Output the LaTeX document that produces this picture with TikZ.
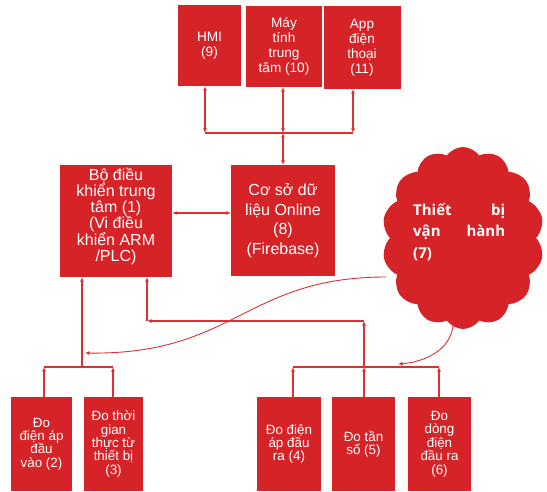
\documentclass[tikz,border=0pt]{standalone}
\usepackage{fontspec}
\setmainfont{Liberation Sans}
\newfontfamily\cloudfont{Open Sans}
\usetikzlibrary{shapes.symbols,arrows.meta}
\definecolor{boxred}{RGB}{214,35,40}
\definecolor{linered}{RGB}{222,48,52}
\begin{document}
\begin{tikzpicture}[x=1pt,y=-1pt,
  >={Latex[length=4.5pt,width=4pt]},
  box/.style={fill=boxred, text=white, align=center, inner sep=0pt},
  topbox/.style={box, font=\fontsize{13.6}{15}\selectfont},
  midbox/.style={box, font=\fontsize{16}{15.8}\selectfont},
  botbox/.style={box, font=\fontsize{13.4}{13.4}\selectfont},
  conn/.style={draw=linered, line width=1.3pt},
  curve/.style={draw=linered, line width=0.9pt}]
\useasboundingbox (0,0) rectangle (547,492);

% top boxes
\node[topbox, minimum width=63pt, minimum height=81pt] (hmi) at (209.5,45.5) {HMI\\(9)};
\node[topbox, minimum width=76pt, minimum height=81pt] (pc) at (284,46.5) {Máy\\tính\\trung\\tâm (10)};
\node[topbox, minimum width=77pt, minimum height=83pt] (app) at (362,47.5) {App\\điện\\thoại\\(11)};

% middle
\node[midbox, minimum width=112pt, minimum height=112pt] (ctrl) at (116,221) {};
\node[midbox, anchor=center] (ctrltext) at (116,216.5) {Bộ điều\\khiển trung\\tâm (1)\\(Vi điều\\khiển ARM\\/PLC)};
\node[midbox, minimum width=104pt, minimum height=111pt, font=\fontsize{16}{19.5}\selectfont] (db) at (283,220.5) {Cơ sở dữ\\liệu Online\\(8)\\(Firebase)};

% cloud
\node[cloud, cloud puffs=14, cloud puff arc=110, cloud ignores aspect, fill=boxred,
  minimum width=162pt, minimum height=182pt, inner sep=0pt] (dev) at (463,238) {};
\node[anchor=north west, inner sep=0pt, text=white, align=left,
  font=\cloudfont\bfseries\fontsize{15}{21.5}\selectfont] (devtext) at (413,203)
  {\makebox[92pt][s]{Thiết\hfill bị}\\\makebox[92pt][s]{vận\hfill hành}\\(7)};

% bottom boxes
\node[botbox, minimum width=61pt, minimum height=94pt] (b2) at (41.5,444) {Đo\\điện áp\\đầu\\vào (2)};
\node[botbox, minimum width=59pt, minimum height=94pt] (b3) at (113.5,444) {Đo thời\\gian\\thực từ\\thiết bị\\(3)};
\node[botbox, minimum width=64pt, minimum height=94pt] (b4) at (289,444) {Đo điện\\áp đầu\\ra (4)};
\node[botbox, minimum width=63pt, minimum height=94pt] (b5) at (363.5,444) {Đo tần\\số (5)};
\node[botbox, minimum width=63pt, minimum height=94pt] (b6) at (439.5,444) {Đo\\dòng\\điện\\đầu ra\\(6)};

% top bus
\coordinate (tb1) at (205,133);
\coordinate (tb2) at (283,133);
\coordinate (tb3) at (353,133);
\draw[conn,<->] (tb1 |- hmi.south) -- (tb1);
\draw[conn,<->] (tb2 |- pc.south) -- (tb2);
\draw[conn,<->] (tb3 |- app.south) -- (tb3);
\draw[conn] (tb1) -- (tb3);
\draw[conn,<->] (tb2) -- (tb2 |- db.north);

% controller <-> db
\coordinate (cd) at (0,213);
\draw[conn,<->] (ctrl.east |- cd) -- (db.west |- cd);

% bottom left bus
\coordinate (lb) at (82,367);
\coordinate (lb1) at (44,367);
\coordinate (lb2) at (113,367);
\draw[conn,->] (lb1 |- b2.north) -- (lb1);
\draw[conn,->] (lb2 |- b3.north) -- (lb2);
\draw[conn] (lb1) -- (lb2);
\draw[conn,->] (lb) -- (lb |- ctrl.south);

% bottom right bus
\coordinate (rb1) at (293,367);
\coordinate (rb2) at (364,367);
\coordinate (rb3) at (439,367);
\coordinate (rc) at (364,321);
\coordinate (lc) at (147,321);
\draw[conn,->] (rb1 |- b4.north) -- (rb1);
\draw[conn,->] (rb2 |- b5.north) -- (rb2);
\draw[conn,->] (rb3 |- b6.north) -- (rb3);
\draw[conn] (rb1) -- (rb3);
\draw[conn,->] (rb2) -- (rc);
\draw[conn,->] (rc) -- (lc);
\draw[conn,->] (lc) -- (lc |- ctrl.south);

% curves from the cloud
\coordinate (c1s) at (386,277);
\coordinate (c1e) at (85,353);
\draw[curve,->] (c1s) .. controls (245,277) and (235,355) .. (c1e);
\coordinate (c2s) at (453,326);
\coordinate (c2e) at (398,364);
\draw[curve,->] (c2s) .. controls (450,350) and (425,362) .. (c2e);
\end{tikzpicture}
\end{document}
